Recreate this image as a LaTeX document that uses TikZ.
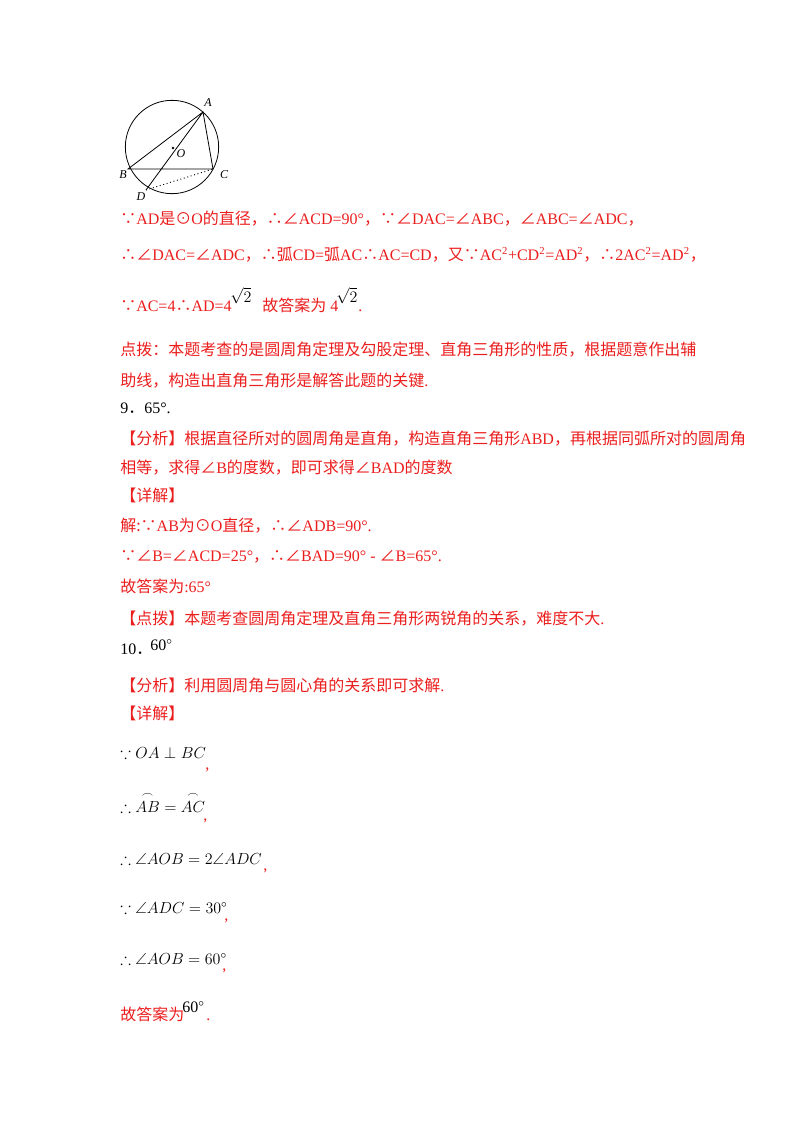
\documentclass[tikz,border=0pt]{standalone}
\usepackage{amsmath,amssymb}
\usepackage{fontspec}
\setmainfont{Liberation Serif}
\newfontfamily\cjk{Noto Sans CJK SC}
\newcommand{\zh}[1]{{\cjk #1}}
\definecolor{rd}{RGB}{235,30,30}
\begin{document}
\begin{tikzpicture}[x=0.75pt,y=-0.75pt,
  t/.style={anchor=base west,inner sep=0pt,font=\fontsize{12pt}{13pt}\selectfont},
  r/.style={t,text=rd},
  m/.style={t,text=black,font=\fontsize{12pt}{14pt}\selectfont},
  lab/.style={inner sep=0pt,font=\fontsize{9pt}{10pt}\selectfont\itshape}]
\useasboundingbox (0,0) rectangle (800,1132);
% figure
\node[draw,circle,minimum size=70pt,inner sep=0pt,line width=0.6pt] (circ) at (172,147) {};
\coordinate (A) at (203,112);
\coordinate (B) at (128,169);
\coordinate (C) at (213,169);
\coordinate (D) at (146,190);
\fill (173,148) circle (1.3);
\draw[line width=0.6pt] (A)--(B)--(C)--cycle (A)--(D);
\draw[dotted,line width=0.7pt] (D)--(C);
\node[lab] (la) at (208,103) {A};
\node[lab] (lb) at (123,175) {B};
\node[lab] (lc) at (224,175) {C};
\node[lab] (ld) at (141,197) {D};
\node[lab] (lo) at (181,154) {O};
% text
\node[r] (l1) at (120,224) {\zh{∵}AD\zh{是⊙}O\zh{的直径，∴∠}ACD=90°\zh{，∵∠}DAC=\zh{∠}ABC\zh{，∠}ABC=\zh{∠}ADC\zh{，}};
\node[r] (l2) at (120,260) {\zh{∴∠}DAC=\zh{∠}ADC\zh{，∴弧}CD=\zh{弧}AC\zh{∴}AC=CD\zh{，又∵}AC\textsuperscript{2}+CD\textsuperscript{2}=AD\textsuperscript{2}\zh{，∴}2AC\textsuperscript{2}=AD\textsuperscript{2}\zh{，}};
\node[r] (l3) at (120,311) {\zh{∵}AC=4\zh{∴}AD=4};
\node[t,anchor=base west] (s1) at (230,302) {$\sqrt{2}$};
\node[r] (l3b) at (262,311) {\zh{故答案为} 4};
\node[t,anchor=base west] (s2) at (336,302) {$\sqrt{2}$};
\node[r] (l3c) at (358,311) {.};
\node[r] (l4) at (120,355) {\zh{点拨：本题考查的是圆周角定理及勾股定理、直角三角形的性质，根据题意作出辅}};
\node[r] (l5) at (120,386) {\zh{助线，构造出直角三角形是解答此题的关键}.};
\node[t] (l6) at (120,413) {9\zh{．}65°.};
\node[r] (l7) at (120,444) {\zh{【分析】根据直径所对的圆周角是直角，构造直角三角形}ABD\zh{，再根据同弧所对的圆周角}};
\node[r] (l8) at (120,473) {\zh{相等，求得∠}B\zh{的度数，即可求得∠}BAD\zh{的度数}};
\node[r] (l9) at (120,501) {\zh{【详解】}};
\node[r] (l10) at (120,531) {\zh{解:∵}AB\zh{为⊙}O\zh{直径，∴∠}ADB=90°.};
\node[r] (l11) at (120,561) {\zh{∵∠}B=\zh{∠}ACD=25°\zh{，∴∠}BAD=90° - \zh{∠}B=65°.};
\node[r] (l12) at (120,592) {\zh{故答案为}:65°};
\node[r] (l13) at (120,624) {\zh{【点拨】本题考查圆周角定理及直角三角形两锐角的关系，难度不大}.};
\node[t] (l14) at (120,654) {10\zh{．}};
\node[m] (l14b) at (150,650) {60$^{\circ}$};
\node[r] (l15) at (120,691) {\zh{【分析】利用圆周角与圆心角的关系即可求解}.};
\node[r] (l16) at (120,719) {\zh{【详解】}};
\node[m] (m1) at (120,758) {$\because OA\perp BC$};
\node[r] (c1) at (205,769) {,};
\node[m] (m2) at (120,812) {$\therefore \overset{\frown}{AB}=\overset{\frown}{AC}$};
\node[r] (c2) at (203,820) {,};
\node[m] (m3) at (120,864) {$\therefore \angle AOB=2\angle ADC$};
\node[r] (c3) at (263,870) {,};
\node[m] (m4) at (120,913) {$\because \angle ADC=30^{\circ}$};
\node[r] (c4) at (224,920) {,};
\node[m] (m5) at (120,964) {$\therefore \angle AOB=60^{\circ}$};
\node[r] (c5) at (222,970) {,};
\node[r] (l17) at (120,1020) {\zh{故答案为}};
\node[m] (l17b) at (182,1012) {60$^{\circ}$};
\node[r] (l17c) at (206,1020) {.};
\end{tikzpicture}
\end{document}
